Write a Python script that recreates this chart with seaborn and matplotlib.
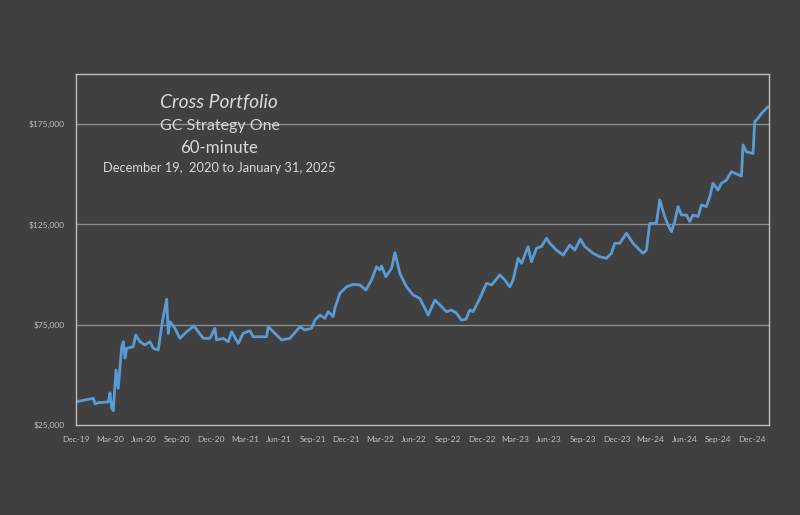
import matplotlib
matplotlib.use("Agg")
import matplotlib.pyplot as plt
import seaborn as sns
import pandas as pd

# x: months since Dec-2019, y: equity ($)
months = [0.06, 1.54, 1.69, 1.98, 2.87, 3.02, 3.17, 3.31, 3.55, 3.75, 4.06, 4.20, 4.35, 4.50,
          5.08, 5.30, 5.68, 6.12, 6.57, 6.86, 7.30, 7.69, 8.05, 8.19, 8.34, 8.78, 9.23, 9.82,
          10.47, 10.85, 11.30, 11.89, 12.33, 12.48, 13.07, 13.51, 13.82, 14.40, 14.84, 15.44,
          15.73, 16.92, 17.06, 17.51, 18.25, 18.99, 19.88, 20.32, 20.91, 21.21, 21.65, 22.09,
          22.39, 22.83, 22.98, 23.43, 24.02, 24.61, 25.20, 25.73, 26.24, 26.68, 26.97, 27.12,
          27.51, 28.01, 28.31, 28.75, 29.34, 29.93, 30.52, 30.97, 31.26, 31.86, 32.45, 32.89,
          33.34, 33.78, 34.22, 34.61, 34.96, 35.25, 35.85, 36.44, 36.89, 37.62, 38.07, 38.51,
          38.80, 39.25, 39.55, 40.13, 40.43, 40.88, 41.32, 41.77, 42.06, 42.65, 43.24, 43.83,
          44.28, 44.78, 45.16, 45.90, 46.50, 47.09, 47.53, 47.83, 48.27, 48.86, 49.45, 50.04,
          50.34, 50.64, 50.93, 51.52, 51.82, 52.26, 52.56, 52.86, 53.15, 53.44, 53.74, 54.19,
          54.48, 54.77, 55.22, 55.52, 55.96, 56.26, 56.55, 56.99, 57.29, 57.74, 58.18, 59.07,
          59.21, 59.51, 60.10, 60.25, 60.54, 60.84, 61.13, 61.43]
equity = [36600, 38300, 35500, 36100, 36500, 41000, 33300, 32100, 52400, 43300, 64000, 66500, 58400, 63200,
          64000, 69900, 66500, 64900, 66500, 63200, 62400, 77300, 87700, 70700, 76500, 73200, 68200, 71500,
          74400, 71500, 68200, 68200, 73200, 67400, 68200, 66500, 71500, 65700, 70700, 72000,
          69000, 69000, 74000, 71500, 67400, 68200, 74000, 72400, 73200, 77300, 79800, 78200,
          81500, 79000, 83200, 90700, 93900, 95100, 94800, 92300, 97300, 103900, 102300, 104300,
          98900, 103100, 110900, 100600, 93900, 89800, 88100, 83200, 79800, 87300, 84000, 81500,
          82300, 80700, 77300, 77700, 82300, 81500, 88100, 95600, 94800, 99800, 97300, 93900,
          97300, 108100, 105600, 113900, 106400, 113100, 114000, 118100, 115600, 112200, 109700, 114700,
          112200, 117700, 114000, 110600, 108900, 108100, 110600, 115600, 115600, 120600, 115600, 112200,
          110600, 112200, 125500, 125500, 137200, 128900, 124700, 121400, 126400, 133900, 129700, 129700,
          126400, 129700, 128900, 134700, 133900, 138800, 145500, 142100, 145500, 147100, 151300, 149100,
          164600, 161200, 160400, 176200, 177900, 180300, 182000, 183700]

tick_months = list(range(0, 61, 3))
tick_labels = ["Dec-19", "Mar-20", "Jun-20", "Sep-20", "Dec-20", "Mar-21", "Jun-21", "Sep-21",
               "Dec-21", "Mar-22", "Jun-22", "Sep-22", "Dec-22", "Mar-23", "Jun-23", "Sep-23",
               "Dec-23", "Mar-24", "Jun-24", "Sep-24", "Dec-24"]
y_ticks = [25000, 75000, 125000, 175000]
y_labels = ["$25,000", "$75,000", "$125,000", "$175,000"]

title_lines = ["Cross Portfolio", "GC Strategy One", "60-minute",
               "December 19,  2020 to January 31, 2025"]

sns.set_style("dark")
plt.rcParams['font.family'] = ['Lato', 'DejaVu Sans']

bg = "#404040"
fig = plt.figure(figsize=(8, 5.15), dpi=100, facecolor=bg)
ax = fig.add_axes([0.095, 0.1748, 0.866, 0.6815])
ax.set_facecolor(bg)

df = pd.DataFrame({"month": months, "equity": equity})
sns.lineplot(data=df, x="month", y="equity", ax=ax, color="#5b9bd5", linewidth=2.0, estimator=None)

ax.set_xlim(0, 61.5)
ax.set_ylim(25000, 200000)
ax.set_yticks(y_ticks)
ax.set_yticklabels(y_labels)
ax.set_xticks(tick_months)
ax.set_xticklabels(tick_labels)
ax.set_xlabel("")
ax.set_ylabel("")
ax.tick_params(axis="both", colors="#bfbfbf", labelsize=6, length=0)
ax.tick_params(axis="x", pad=8)
ax.tick_params(axis="y", pad=8)
ax.grid(False)
for y in y_ticks[1:]:
    ax.axhline(y, color="#8c8c8c", linewidth=1, zorder=0)
for s in ax.spines.values():
    s.set_visible(True)
    s.set_color("#bfbfbf")
    s.set_linewidth(1)

tc = "#d9d9d9"
fig.text(219/800, 1 - 102/515, title_lines[0], ha="center", va="center", color=tc, fontsize=13.9, style="italic")
fig.text(220/800, 1 - 126/515, title_lines[1], ha="center", va="center", color=tc, fontsize=11.5)
fig.text(219/800, 1 - 148/515, title_lines[2], ha="center", va="center", color=tc, fontsize=12.2)
fig.text(219/800, 1 - 168/515, title_lines[3], ha="center", va="center", color=tc, fontsize=9.3)

fig.savefig("out.png", dpi=100, facecolor=bg)
